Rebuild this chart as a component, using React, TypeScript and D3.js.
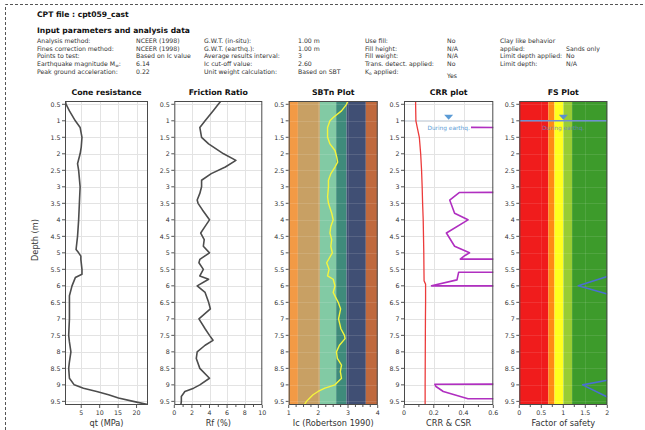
import React from "react";
import * as d3 from "d3";

// ---------- data ----------
const depthTicks = [0.5, 1, 1.5, 2, 2.5, 3, 3.5, 4, 4.5, 5, 5.5, 6, 6.5, 7, 7.5, 8, 8.5, 9, 9.5];

const coneTicks = [5, 10, 15, 20];
const frictionTicks = [0, 2, 4, 6, 8, 10];
const frictionMinor = [1, 3, 5, 7, 9];
const icTicks = [1, 2, 3, 4];
const icMinor = [1.25, 1.5, 1.75, 2.25, 2.5, 2.75, 3.25, 3.5, 3.75];
const crrTicks = [0, 0.2, 0.4, 0.6];
const crrMinor = [0.1, 0.3, 0.5];
const fsTicks = [0, 0.5, 1, 1.5, 2];
const fsMinor = [0.25, 0.75, 1.25, 1.75];

const coneDepth = [0.4, 0.5, 0.7, 1.0, 1.2, 1.5, 1.8, 2.0, 2.3, 2.5, 3.0, 3.5, 4.0, 4.5, 4.9, 5.0, 5.1, 5.2, 5.5, 5.65, 5.75, 6.0, 6.3, 6.5, 7.0, 7.5, 7.7, 8.0, 8.3, 8.5, 8.8, 9.0, 9.1, 9.2, 9.3, 9.4, 9.5, 9.6];
const coneQt = [0.7, 0.9, 1.8, 3.4, 4.7, 5.2, 5.0, 4.7, 4.0, 4.3, 4.7, 4.5, 4.3, 4.0, 3.6, 4.3, 4.9, 4.9, 5.2, 5.2, 3.4, 2.5, 1.8, 1.8, 1.8, 1.6, 1.8, 2.2, 1.8, 1.6, 1.8, 3.1, 5.6, 9.2, 12.4, 15.1, 19.1, 23.1];

const frDepth = [0.4, 0.5, 0.7, 1.0, 1.2, 1.5, 1.7, 2.0, 2.2, 2.4, 2.6, 2.8, 3.0, 3.2, 3.4, 3.5, 3.7, 4.0, 4.2, 4.4, 4.6, 4.8, 5.0, 5.2, 5.3, 5.5, 5.7, 5.8, 6.0, 6.2, 6.5, 6.7, 7.0, 7.3, 7.5, 7.65, 7.8, 8.0, 8.2, 8.5, 8.8, 9.0, 9.1, 9.2, 9.35, 9.5, 9.6];
const frRf = [5.3, 5.0, 4.4, 3.5, 2.9, 3.1, 3.9, 5.6, 7.0, 5.8, 4.2, 3.1, 3.1, 2.9, 2.6, 2.7, 3.2, 4.0, 3.5, 3.0, 3.4, 3.3, 4.0, 2.9, 2.8, 3.3, 2.9, 3.9, 2.6, 3.5, 3.9, 4.1, 2.8, 3.5, 4.0, 4.4, 3.5, 2.6, 2.5, 2.9, 4.0, 2.9, 2.2, 1.2, 0.8, 0.8, 0.75];

const icDepth = [0.4, 0.5, 0.7, 0.9, 1.0, 1.2, 1.5, 1.7, 1.9, 2.1, 2.25, 2.4, 2.6, 2.8, 3.0, 3.3, 3.5, 3.8, 4.0, 4.2, 4.4, 4.6, 4.8, 5.0, 5.3, 5.5, 5.7, 5.8, 6.0, 6.2, 6.5, 6.7, 7.0, 7.3, 7.5, 7.6, 7.8, 8.0, 8.2, 8.4, 8.6, 8.8, 9.0, 9.1, 9.2, 9.3, 9.4, 9.5, 9.6];
const icValue = [3.0, 2.95, 2.78, 2.5, 2.39, 2.31, 2.31, 2.39, 2.56, 2.62, 2.65, 2.56, 2.42, 2.34, 2.34, 2.31, 2.34, 2.45, 2.5, 2.42, 2.39, 2.45, 2.42, 2.47, 2.28, 2.36, 2.31, 2.5, 2.56, 2.5, 2.67, 2.75, 2.68, 2.76, 2.88, 2.9, 2.71, 2.61, 2.64, 2.78, 2.74, 2.78, 2.56, 2.22, 1.99, 1.82, 1.71, 1.6, 1.53];

const csrDepth = [0.4, 0.5, 1.0, 1.2, 1.5, 2.0, 2.5, 3.0, 3.5, 4.0, 4.5, 5.0, 5.5, 5.85, 5.95, 6.5, 7.0, 8.0, 9.0, 9.6];
const csrValue = [0.078, 0.078, 0.08, 0.089, 0.103, 0.112, 0.118, 0.122, 0.125, 0.129, 0.131, 0.133, 0.134, 0.135, 0.145, 0.145, 0.144, 0.143, 0.142, 0.142];

const crrDepth = [1.2, 1.21, 3.16, 3.17, 3.4, 3.8, 4.0, 4.4, 4.8, 5.0, 5.08, 5.19, 5.2, 5.58, 5.59, 5.82, 6.0, 6.01, 8.97, 8.98, 9.05, 9.2, 9.42, 9.43, 9.6];
const crrValue = [0.45, 2, 2, 0.373, 0.307, 0.34, 0.43, 0.285, 0.34, 0.44, 0.41, 0.378, 2, 2, 0.367, 0.356, 0.185, 2, 2, 0.207, 0.215, 0.264, 0.43, 2, 2];

const fsDepth = [5.72, 6.0, 6.25, 8.86, 9.0, 9.37];
const fsValue = [2, 1.34, 2, 2, 1.44, 2];
const fsSegment = [0, 0, 0, 1, 1, 1];

const sbtBounds = [1, 1.31, 2.05, 2.6, 2.95, 3.6, 4];
const sbtColors = ["#f29a45", "#c8a064", "#82caa4", "#3f8b7b", "#404f74", "#c0693d"];
const fsBounds = [0, 0.66, 0.8, 1.0, 1.2, 2];
const fsColors = ["#f01c1c", "#ff8a14", "#ffff1e", "#98cc34", "#3d9b2b"];

const gwtDepth = 1.0;

const hdrCol1Labels = ["Analysis method:", "Fines correction method:", "Points to test:", "Earthquake magnitude M", "Peak ground acceleration:"];
const hdrCol1Values = ["NCEER (1998)", "NCEER (1998)", "Based on Ic value", "6.14", "0.22"];
const hdrCol2Labels = ["G.W.T. (in-situ):", "G.W.T. (earthq.):", "Average results interval:", "Ic cut-off value:", "Unit weight calculation:"];
const hdrCol2Values = ["1.00 m", "1.00 m", "3", "2.60", "Based on SBT"];
const hdrCol3Labels = ["Use fill:", "Fill height:", "Fill weight:", "Trans. detect. applied:", "K"];
const hdrCol3Values = ["No", "N/A", "N/A", "No", "Yes"];
const hdrCol4Labels = ["Clay like behavior", "applied:", "Limit depth applied:", "Limit depth:"];
const hdrCol4Values = ["", "Sands only", "No", "N/A"];

// ---------- layout ----------
const W = 645;
const H = 430;
const yTop = 101;
const yBot = 405;
const SANS = "'DejaVu Sans', Verdana, sans-serif";

const y = d3.scaleLinear().domain([0.4, 9.61]).range([yTop, yBot]);

type PanelProps = {
  id: string;
  left: number;
  right: number;
  x: d3.ScaleLinear<number, number>;
  title: string;
  xLabel: string;
  ticks: number[];
  minor?: number[];
  gridColor: string;
  background?: React.ReactNode;
  children?: React.ReactNode;
};

function Panel(p: PanelProps) {
  const w = p.right - p.left;
  const cx = (p.left + p.right) / 2;
  return (
    <g>
      <defs>
        <clipPath id={`clip-${p.id}`}>
          <rect x={p.left} y={yTop} width={w} height={yBot - yTop} />
        </clipPath>
      </defs>
      <rect x={p.left} y={yTop} width={w} height={yBot - yTop} fill="#ffffff" />
      {p.background}
      <g stroke={p.gridColor} strokeWidth={1}>
        {depthTicks.map((d) => (
          <line key={`h${d}`} x1={p.left} x2={p.right} y1={Math.round(y(d)) + 0.5} y2={Math.round(y(d)) + 0.5} />
        ))}
        {p.ticks
          .filter((t) => p.x(t) > p.left + 1 && p.x(t) < p.right - 1)
          .map((t) => (
            <line key={`v${t}`} x1={Math.round(p.x(t)) + 0.5} x2={Math.round(p.x(t)) + 0.5} y1={yTop} y2={yBot} />
          ))}
      </g>
      <g clipPath={`url(#clip-${p.id})`}>{p.children}</g>
      <rect x={p.left + 0.5} y={yTop + 0.5} width={w - 1} height={yBot - yTop - 1} fill="none" stroke="#4a4a4a" strokeWidth={1} />
      <g fontFamily={SANS} fontSize={6.3} fill="#333">
        {depthTicks.map((d) => (
          <g key={`yt${d}`}>
            <line x1={p.left - 3} x2={p.left} y1={y(d)} y2={y(d)} stroke="#555" />
            <text x={p.left - 4.5} y={y(d)} dy="0.35em" textAnchor="end">
              {String(d)}
            </text>
          </g>
        ))}
      </g>
      <g fontFamily={SANS} fontSize={6.3} fill="#333">
        {p.ticks.map((t) => (
          <g key={`xt${t}`}>
            {p.x(t) <= p.right + 0.5 && (
              <line x1={p.x(t)} x2={p.x(t)} y1={yBot} y2={yBot + 3} stroke="#555" />
            )}
            <text x={p.x(t)} y={414.5} textAnchor="middle">
              {String(t)}
            </text>
          </g>
        ))}
        {(p.minor || []).map((t) => (
          <line key={`mt${t}`} x1={p.x(t)} x2={p.x(t)} y1={yBot} y2={yBot + 2} stroke="#555" />
        ))}
      </g>
      <text x={cx} y={94.5} textAnchor="middle" fontFamily={SANS} fontWeight="bold" fontSize={7.8} fill="#111">
        {p.title}
      </text>
      <text x={cx} y={426} textAnchor="middle" fontFamily={SANS} fontSize={8.2} fill="#333">
        {p.xLabel}
      </text>
    </g>
  );
}

function pathFrom(x: d3.ScaleLinear<number, number>, depths: number[], values: number[]) {
  const pts = depths.map((d, i) => [x(values[i]), y(d)] as [number, number]);
  return d3.line()(pts) || "";
}

export default function App() {
  const xCone = d3.scaleLinear().domain([0.6, 23.1]).range([65, 148]);
  const xFr = d3.scaleLinear().domain([0, 10]).range([174.3, 262.3]);
  const xIc = d3.scaleLinear().domain([1, 4]).range([288.7, 377.7]);
  const xCrr = d3.scaleLinear().domain([0, 0.6]).range([404, 493.3]);
  const xFs = d3.scaleLinear().domain([0, 2]).range([519.3, 607.3]);

  const rowY = [43.2, 50.8, 58.4, 66, 73.6];

  const fsSegs = [0, 1].map((s) => {
    const idx = fsSegment.map((g, i) => (g === s ? i : -1)).filter((i) => i >= 0);
    return pathFrom(xFs, idx.map((i) => fsDepth[i]), idx.map((i) => fsValue[i]));
  });

  const gy = y(gwtDepth);

  return (
    <div style={{ position: "fixed", left: 0, top: 0 }}>
      <svg width={W} height={H} viewBox={`0 0 ${W} ${H}`} style={{ display: "block", background: "#fff" }}>
        <path d={`M5.5,${H} V4.5 H${W}`} fill="none" stroke="#555" strokeWidth={1} strokeDasharray="3,2" />

        <g fontFamily={SANS} fill="#111">
          <text x={37} y={17} fontWeight="bold" fontSize={7.6}>CPT file : cpt059_cast</text>
          <text x={37} y={32.5} fontWeight="bold" fontSize={7.6}>Input parameters and analysis data</text>
        </g>
        <g fontFamily={SANS} fontSize={6.2} fill="#333">
          {hdrCol1Labels.map((t, i) => (
            <text key={`a${i}`} x={37} y={rowY[i]}>
              {t}
              {i === 3 && (
                <>
                  <tspan fontSize={4.3} dy={1.2}>w</tspan>
                  <tspan dy={-1.2}>:</tspan>
                </>
              )}
            </text>
          ))}
          {hdrCol1Values.map((t, i) => (
            <text key={`b${i}`} x={136} y={rowY[i]}>{t}</text>
          ))}
          {hdrCol2Labels.map((t, i) => (
            <text key={`c${i}`} x={204} y={rowY[i]}>{t}</text>
          ))}
          {hdrCol2Values.map((t, i) => (
            <text key={`d${i}`} x={298} y={rowY[i]}>{t}</text>
          ))}
          {hdrCol3Labels.map((t, i) => (
            <text key={`e${i}`} x={365} y={rowY[i]}>
              {t}
              {i === 4 && (
                <>
                  <tspan fontSize={4.3} dy={1.2}>o</tspan>
                  <tspan dy={-1.2}> applied:</tspan>
                </>
              )}
            </text>
          ))}
          {hdrCol3Values.map((t, i) => (
            <text key={`f${i}`} x={447} y={rowY[i] + (i === 4 ? 4 : 0)}>{t}</text>
          ))}
          {hdrCol4Labels.map((t, i) => (
            <text key={`g${i}`} x={500} y={rowY[i]}>{t}</text>
          ))}
          {hdrCol4Values.map((t, i) => (
            <text key={`h${i}`} x={i === 1 ? 566 : 566} y={rowY[i]}>{t}</text>
          ))}
        </g>

        <Panel id="cone" left={65} right={148} x={xCone} title="Cone resistance" xLabel="qt (MPa)" ticks={coneTicks} gridColor="#e3e3e3">
          <path d={pathFrom(xCone, coneDepth, coneQt)} fill="none" stroke="#4d4d4d" strokeWidth={1.6} strokeLinejoin="round" />
        </Panel>

        <Panel id="fr" left={174.3} right={262.3} x={xFr} title="Friction Ratio" xLabel="Rf (%)" ticks={frictionTicks} minor={frictionMinor} gridColor="#e3e3e3">
          <path d={pathFrom(xFr, frDepth, frRf)} fill="none" stroke="#4d4d4d" strokeWidth={1.6} strokeLinejoin="round" />
        </Panel>

        <Panel
          id="sbt"
          left={288.7}
          right={377.7}
          x={xIc}
          title="SBTn Plot"
          xLabel="Ic (Robertson 1990)"
          ticks={icTicks}
          minor={icMinor}
          gridColor="rgba(255,255,255,0.12)"
          background={
            <g>
              {sbtColors.map((c, i) => (
                <rect key={i} x={xIc(sbtBounds[i])} y={yTop} width={xIc(sbtBounds[i + 1]) - xIc(sbtBounds[i])} height={yBot - yTop} fill={c} />
              ))}
            </g>
          }
        >
          <path d={pathFrom(xIc, icDepth, icValue)} fill="none" stroke="#f4f43c" strokeWidth={1.4} strokeLinejoin="round" />
        </Panel>

        <Panel id="crr" left={404} right={493.3} x={xCrr} title="CRR plot" xLabel="CRR & CSR" ticks={crrTicks} minor={crrMinor} gridColor="#e3e3e3">
          <line x1={404} x2={493.3} y1={gy} y2={gy} stroke="#c9d3df" strokeWidth={1} />
          <path d={`M${xCrr(0.3) - 4.5},${gy - 6} L${xCrr(0.3) + 4.5},${gy - 6} L${xCrr(0.3)},${gy - 1} Z`} fill="#5b9bd5" />
          <text x={xCrr(0.3)} y={129.5} textAnchor="middle" fontFamily={SANS} fontSize={5.8} fill="#5b9bd5">During earthq.</text>
          <path d={pathFrom(xCrr, csrDepth, csrValue)} fill="none" stroke="#ec3b3b" strokeWidth={1.3} />
          <path d={pathFrom(xCrr, crrDepth, crrValue)} fill="none" stroke="#b02fc0" strokeWidth={1.6} strokeLinejoin="round" />
        </Panel>

        <Panel
          id="fs"
          left={519.3}
          right={607.3}
          x={xFs}
          title="FS Plot"
          xLabel="Factor of safety"
          ticks={fsTicks}
          minor={fsMinor}
          gridColor="rgba(255,255,255,0.1)"
          background={
            <g>
              {fsColors.map((c, i) => (
                <rect key={i} x={xFs(fsBounds[i])} y={yTop} width={xFs(fsBounds[i + 1]) - xFs(fsBounds[i])} height={yBot - yTop} fill={c} />
              ))}
            </g>
          }
        >
          <line x1={519.3} x2={607.3} y1={gy} y2={gy} stroke="#6f8fcf" strokeWidth={1.4} />
          <path d={`M${xFs(1) - 4.5},${gy - 6} L${xFs(1) + 4.5},${gy - 6} L${xFs(1)},${gy - 1} Z`} fill="#5b8fd0" />
          <text x={xFs(1)} y={129.5} textAnchor="middle" fontFamily={SANS} fontSize={5.8} fill="#6a86c4" opacity={0.85}>During earthq.</text>
          {fsSegs.map((d, i) => (
            <path key={i} d={d} fill="none" stroke="#4a6fd0" strokeWidth={1.6} strokeLinejoin="round" />
          ))}
        </Panel>

        <text transform="translate(38,240) rotate(-90)" textAnchor="middle" fontFamily={SANS} fontSize={8.2} fill="#333">
          Depth (m)
        </text>
      </svg>
    </div>
  );
}
